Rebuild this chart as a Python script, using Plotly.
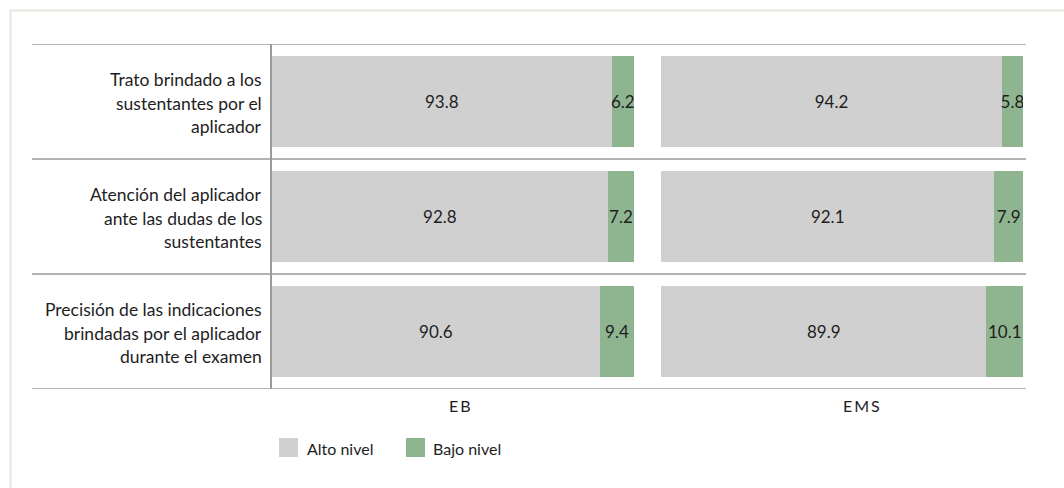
import plotly.graph_objects as go

# ---- data ----
categories = [
    ["Trato brindado a los", "sustentantes por el", "aplicador"],
    ["Atención del aplicador", "ante las dudas de los", "sustentantes"],
    ["Precisión de las indicaciones", "brindadas por el aplicador", "durante el examen"],
]
panels = ["EB", "EMS"]
panel_labels = ["E\u2009B", "E\u2009M\u2009S"]
alto_eb = [93.8, 92.8, 90.6]
bajo_eb = [6.2, 7.2, 9.4]
alto_ems = [94.2, 92.1, 89.9]
bajo_ems = [5.8, 7.9, 10.1]
series_names = ["Alto nivel", "Bajo nivel"]

# ---- style ----
GRAY = "#d0d0d0"
GREEN = "#8fb590"
LINE = "#9a9a9a"
TXT = "#1e1e1e"
FONT = "Lato"

W, H = 1064, 488
ML, MR, MT, MB = 32, 38, 44, 99
PW = W - ML - MR
PH = H - MT - MB


def px_x(px):
    return (px - ML) / PW


def px_y(py):
    return (H - MB - py) / PH


ypos = list(range(len(categories)))

fig = go.Figure()
for axis, alto, bajo in [("x", alto_eb, bajo_eb), ("x2", alto_ems, bajo_ems)]:
    for name, vals, col in [(series_names[0], alto, GRAY), (series_names[1], bajo, GREEN)]:
        fig.add_trace(go.Bar(
            x=vals, y=ypos, orientation="h", name=name,
            marker=dict(color=col, line=dict(width=0)),
            text=[f"{v:.1f}" for v in vals], textposition="inside", textangle=0,
            insidetextanchor="middle", constraintext="none",
            textfont=dict(family=FONT, size=17, color=TXT),
            xaxis=axis, yaxis="y", showlegend=False, hoverinfo="skip",
        ))

fig.update_layout(
    width=W, height=H, barmode="stack", bargap=0.217,
    margin=dict(l=ML, r=MR, t=MT, b=MB, pad=0),
    paper_bgcolor="white", plot_bgcolor="white",
    font=dict(family=FONT, size=17, color=TXT),
    xaxis=dict(domain=[px_x(272), px_x(634)], range=[0, 100], visible=False, anchor="y"),
    xaxis2=dict(domain=[px_x(661), px_x(1023)], range=[0, 100], visible=False, anchor="y"),
    yaxis=dict(range=[2.5, -0.5], visible=False, showgrid=False, zeroline=False),
)

shapes = []
# outer border
shapes.append(dict(type="rect", xref="paper", yref="paper",
                   x0=px_x(10.5), x1=px_x(1080), y0=px_y(10.5), y1=px_y(520),
                   line=dict(color="#e3eadd", width=2), fillcolor="rgba(0,0,0,0)", layer="below"))
# horizontal separators
for yv in [-0.5, 0.5, 1.5, 2.5]:
    shapes.append(dict(type="line", xref="paper", yref="y", x0=0, x1=1, y0=yv, y1=yv,
                       line=dict(color=LINE, width=1.5)))
# vertical axis line
shapes.append(dict(type="line", xref="paper", yref="paper", x0=px_x(271), x1=px_x(271),
                   y0=0, y1=1, line=dict(color=LINE, width=2)))

annotations = []
LINE_H = 23.5
for i, lines in enumerate(categories):
    n = len(lines)
    for j, ln in enumerate(lines):
        annotations.append(dict(
            xref="paper", yref="y", x=px_x(264), y=i, text=ln, showarrow=False,
            xanchor="right", yanchor="middle", align="right",
            yshift=-(j - (n - 1) / 2) * LINE_H - 1.5,
            font=dict(family=FONT, size=17.5, color=TXT)))

for lab, cx in zip(panel_labels, [460, 861]):
    annotations.append(dict(xref="paper", yref="paper", x=px_x(cx), y=px_y(405), text=lab,
                            showarrow=False, xanchor="center", yanchor="middle",
                            font=dict(family=FONT, size=16, color=TXT)))

# legend
for name, col, x0, tx in [(series_names[0], GRAY, 279, 305), (series_names[1], GREEN, 406, 431)]:
    shapes.append(dict(type="rect", xref="paper", yref="paper",
                       x0=px_x(x0), x1=px_x(x0 + 19), y0=px_y(438), y1=px_y(457),
                       fillcolor=col, line=dict(width=0)))
    annotations.append(dict(xref="paper", yref="paper", x=px_x(tx), y=px_y(448), text=name,
                            showarrow=False, xanchor="left", yanchor="middle",
                            font=dict(family=FONT, size=16, color=TXT)))

fig.update_layout(shapes=shapes, annotations=annotations)
fig.write_html("out.html")
